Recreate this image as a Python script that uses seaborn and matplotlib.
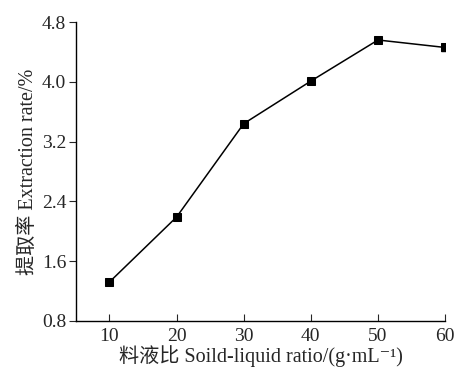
import matplotlib.pyplot as plt
import seaborn as sns
import pandas as pd

ratio = [10, 20, 30, 40, 50, 60]
rate = [1.32, 2.19, 3.44, 4.01, 4.56, 4.46]
err = [0.04, 0.02, 0.04, 0.02, 0.02, 0.05]

df = pd.DataFrame({"ratio": ratio, "rate": rate})

sns.set_style("ticks")
plt.rcParams['font.family'] = ['Liberation Serif', 'Noto Sans CJK SC', 'DejaVu Sans']

fig = plt.figure(figsize=(4.57, 3.74), dpi=100)
ax = fig.add_axes([0.166, 0.142, 0.808, 0.799])

sns.lineplot(data=df, x="ratio", y="rate", ax=ax, color="black",
             marker="s", markersize=6, linewidth=1.1, markeredgecolor="black")
ax.errorbar(ratio, rate, yerr=err, fmt="none", ecolor="black",
            elinewidth=1, capsize=3)

ax.set_xlim(5, 60)
ax.set_ylim(0.8, 4.8)
ax.set_xticks([10, 20, 30, 40, 50, 60])
ax.set_yticks([0.8, 1.6, 2.4, 3.2, 4.0, 4.8])
ax.set_yticklabels(["0.8", "1.6", "2.4", "3.2", "4.0", "4.8"])
ax.tick_params(axis="x", direction="in", length=5, labelsize=14, pad=5)
ax.tick_params(axis="y", direction="out", length=5, labelsize=14, pad=2)
sns.despine(ax=ax)
for s in ["left", "bottom"]:
    ax.spines[s].set_linewidth(1.0)
    ax.spines[s].set_color("black")

ax.set_xlabel("料液比 Soild-liquid ratio/(g·mL⁻¹)", fontsize=14.5, labelpad=0)
ax.set_ylabel("提取率 Extraction rate/%", fontsize=14.5, labelpad=3)

fig.savefig("out.png", dpi=100)
